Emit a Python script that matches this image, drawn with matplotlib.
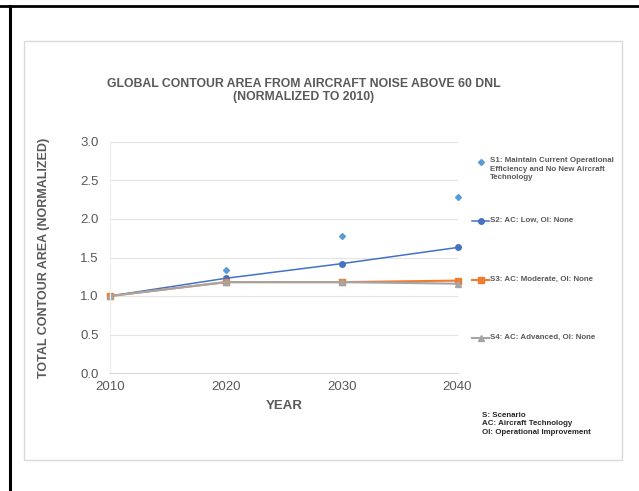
import matplotlib
matplotlib.use("Agg")
import matplotlib.pyplot as plt
from matplotlib.lines import Line2D
from matplotlib.patches import Rectangle

plt.rcParams['font.family'] = ['Liberation Sans', 'DejaVu Sans']

# data
years = [2010, 2020, 2030, 2040]
s1_vals = [1.00, 1.34, 1.78, 2.29]
s2_vals = [1.00, 1.23, 1.42, 1.63]
s3_vals = [1.00, 1.18, 1.18, 1.20]
s4_vals = [1.00, 1.18, 1.18, 1.16]

labels = ["S1: Maintain Current Operational\nEfficiency and No New Aircraft\nTechnology",
          "S2: AC: Low, OI: None",
          "S3: AC: Moderate, OI: None",
          "S4: AC: Advanced, OI: None"]
colors = ["#5B9BD5", "#4472C4", "#ED7D31", "#A5A5A5"]
markers = ["D", "o", "s", "^"]
linestyles = ["none", "-", "-", "-"]
series = [s1_vals, s2_vals, s3_vals, s4_vals]

W, H = 639, 491
fig = plt.figure(figsize=(W / 100, H / 100), dpi=100)

def fx(px): return px / W
def fy(py): return 1 - py / H

# page frame
fig.add_artist(Line2D([fx(0), fx(639)], [fy(6), fy(6)], color="black", lw=2))
fig.add_artist(Line2D([fx(10), fx(10)], [fy(6), fy(491)], color="black", lw=2.2))
fig.add_artist(Rectangle((fx(24), fy(460)), fx(622) - fx(24), fy(41) - fy(460),
                         fill=False, edgecolor="#D9D9D9", lw=1, transform=fig.transFigure))

ax = fig.add_axes([fx(110), fy(373), fx(457.5) - fx(110), fy(142) - fy(373)])

sizes = [3, 4, 4, 4]
widths = [0, 1.1, 1.5, 1.5]
for vals, c, m, ls, ms, lw in zip(series, colors, markers, linestyles, sizes, widths):
    ax.plot(years, vals, color=c, marker=m, linestyle=ls, markersize=ms, lw=lw, clip_on=False)

ax.set_xlim(2010, 2040)
ax.set_ylim(0, 3)
ax.set_xticks(years)
ax.set_yticks([0, 0.5, 1.0, 1.5, 2.0, 2.5, 3.0])
ax.set_yticklabels(["%.1f" % v for v in ax.get_yticks()])
ax.tick_params(length=0, labelsize=9.5, labelcolor="#595959")
ax.tick_params(axis='y', pad=8)
ax.tick_params(axis='x', pad=6)
ax.grid(axis='y', color="#E3E3E3", lw=0.8)
ax.set_axisbelow(True)
for side in ["top", "right"]:
    ax.spines[side].set_visible(False)
ax.spines["left"].set_color("#EEEEEE")
ax.spines["bottom"].set_color("#D9D9D9")

ax.set_ylabel("TOTAL CONTOUR AREA (NORMALIZED)", fontsize=9, fontweight="bold", color="#595959")
ax.yaxis.set_label_coords(-0.172, 0.5)
ax.set_xlabel("YEAR", fontsize=9.5, fontweight="bold", color="#595959")
ax.xaxis.set_label_coords(0.5, -0.118)

fig.text(fx(304), fy(90.5), "GLOBAL CONTOUR AREA FROM AIRCRAFT NOISE ABOVE 60 DNL\n(NORMALIZED TO 2010)",
         ha="center", va="center", fontsize=8.8, fontweight="bold", color="#595959", linespacing=1.15)

# legend entries placed beside the plot like the original
leg_y = [162, 221, 280, 338]
for lab, c, m, ls, ms, lw, py in zip(labels, colors, markers, linestyles, sizes, widths, leg_y):
    if ls != "none":
        fig.add_artist(Line2D([fx(472), fx(489)], [fy(py), fy(py)], color=c, lw=lw))
    fig.add_artist(Line2D([fx(480.5)], [fy(py)], color=c, marker=m, markersize=ms, linestyle="none"))
    fig.text(fx(490), fy(py - 4.5), lab, ha="left", va="top", fontsize=5.7, fontweight="bold",
             color="#595959", linespacing=1.25)

fig.text(fx(482), fy(412), "S: Scenario\nAC: Aircraft Technology\nOI: Operational Improvement",
         ha="left", va="top", fontsize=5.7, fontweight="bold", color="#262626", linespacing=1.25)

fig.savefig("out.png", dpi=100)
